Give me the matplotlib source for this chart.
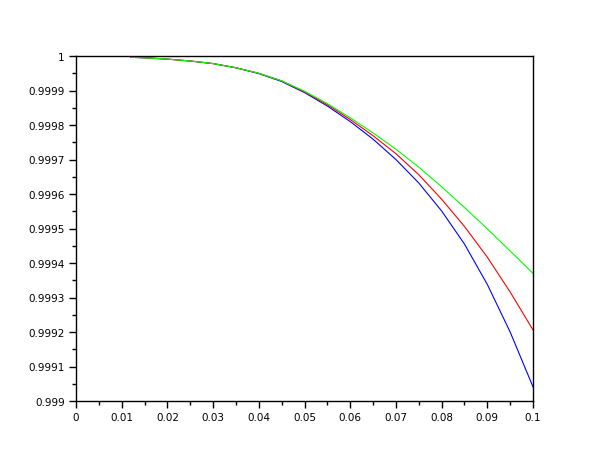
import matplotlib
matplotlib.use("Agg")
import matplotlib.pyplot as plt

x = [0.012, 0.015, 0.02, 0.025, 0.03, 0.035, 0.04, 0.045, 0.05, 0.055,
     0.06, 0.065, 0.07, 0.075, 0.08, 0.085, 0.09, 0.095, 0.1]

green = [0.9999962, 0.9999948, 0.9999910, 0.9999855, 0.9999780, 0.9999660,
         0.9999500, 0.9999280, 0.9998980, 0.9998620, 0.9998210, 0.9997770,
         0.9997300, 0.9996780, 0.9996210, 0.9995610, 0.9994990, 0.9994350,
         0.9993700]
red = [0.9999962, 0.9999948, 0.9999910, 0.9999855, 0.9999780, 0.9999660,
       0.9999500, 0.9999280, 0.9998960, 0.9998590, 0.9998160, 0.9997690,
       0.9997170, 0.9996560, 0.9995850, 0.9995060, 0.9994170, 0.9993160,
       0.9992060]
blue = [0.9999962, 0.9999948, 0.9999910, 0.9999855, 0.9999780, 0.9999658,
        0.9999490, 0.9999260, 0.9998940, 0.9998550, 0.9998100, 0.9997590,
        0.9997000, 0.9996320, 0.9995510, 0.9994550, 0.9993380, 0.9992000,
        0.9990410]

xticks = [0, 0.01, 0.02, 0.03, 0.04, 0.05, 0.06, 0.07, 0.08, 0.09, 0.1]
xlabels = ["0", "0.01", "0.02", "0.03", "0.04", "0.05", "0.06", "0.07", "0.08", "0.09", "0.1"]
yticks = [0.999, 0.9991, 0.9992, 0.9993, 0.9994, 0.9995, 0.9996, 0.9997, 0.9998, 0.9999, 1.0]
ylabels = ["0.999", "0.9991", "0.9992", "0.9993", "0.9994", "0.9995", "0.9996",
           "0.9997", "0.9998", "0.9999", "1"]

fig = plt.figure(figsize=(6.10, 4.60), dpi=100)
ax = fig.add_axes([76/610, 1-402/460, (533-76)/610, (402-57)/460])

ax.plot(x, blue, color="#0000ff", lw=0.8)
ax.plot(x, red, color="#ff0000", lw=0.8)
ax.plot(x, green, color="#00ff00", lw=0.8)

ax.set_xlim(0, 0.1)
ax.set_ylim(0.999, 1.0)
ax.set_xticks(xticks)
ax.set_xticklabels(xlabels)
ax.set_yticks(yticks)
ax.set_yticklabels(ylabels)
ax.set_xticks([0.005 + 0.01*i for i in range(10)], minor=True)
ax.set_yticks([0.99905 + 0.0001*i for i in range(10)], minor=True)

ax.tick_params(which="both", direction="out", labelsize=7.5, colors="black",
               top=False, right=False, width=1)
ax.tick_params(which="major", length=5, pad=3)
ax.tick_params(which="minor", length=3)
for s in ax.spines.values():
    s.set_linewidth(1)
    s.set_color("black")

fig.savefig("out.png", dpi=100)
